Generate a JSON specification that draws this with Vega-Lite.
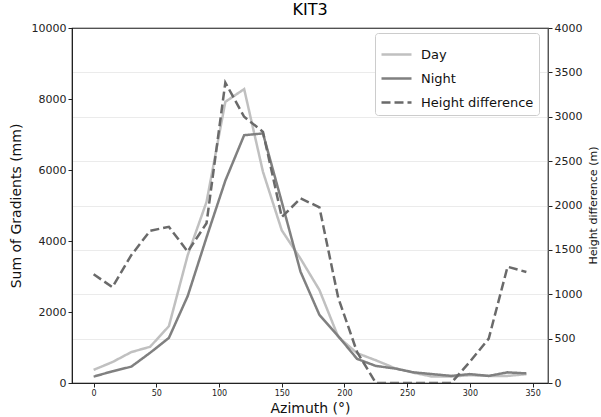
{
  "$schema": "https://vega.github.io/schema/vega-lite/v6.json",
  "width": 476,
  "height": 355,
  "autosize": {"type": "none"},
  "padding": {"left": 72, "top": 28, "right": 53, "bottom": 34},
  "background": "white",
  "title": {"text": "KIT3", "fontSize": 16, "fontWeight": "normal", "font": "DejaVu Sans", "color": "black", "offset": 4},
  "config": {
    "font": "DejaVu Sans",
    "view": {"stroke": "black", "strokeWidth": 1.2},
    "axis": {"labelColor": "#222", "titleColor": "#111", "titleFontWeight": "normal", "tickColor": "#222", "domainColor": "#222", "format": "d"}
  },
  "data": {"values": [
    {"az": 0, "Day": 370, "Night": 180, "Height difference": 1225},
    {"az": 15, "Day": 590, "Night": 330, "Height difference": 1080},
    {"az": 30, "Day": 870, "Night": 460, "Height difference": 1440},
    {"az": 45, "Day": 1020, "Night": 850, "Height difference": 1715},
    {"az": 60, "Day": 1600, "Night": 1270, "Height difference": 1760},
    {"az": 75, "Day": 3600, "Night": 2450, "Height difference": 1480},
    {"az": 90, "Day": 5100, "Night": 4100, "Height difference": 1800},
    {"az": 105, "Day": 7920, "Night": 5700, "Height difference": 3385},
    {"az": 120, "Day": 8280, "Night": 6980, "Height difference": 3000},
    {"az": 135, "Day": 5950, "Night": 7030, "Height difference": 2830},
    {"az": 150, "Day": 4300, "Night": 5100, "Height difference": 1870},
    {"az": 165, "Day": 3500, "Night": 3130, "Height difference": 2080},
    {"az": 180, "Day": 2620, "Night": 1920, "Height difference": 1980},
    {"az": 195, "Day": 1300, "Night": 1320, "Height difference": 960},
    {"az": 210, "Day": 840, "Night": 680, "Height difference": 350},
    {"az": 225, "Day": 640, "Night": 480, "Height difference": 0},
    {"az": 240, "Day": 420, "Night": 410, "Height difference": 0},
    {"az": 255, "Day": 290, "Night": 300, "Height difference": 0},
    {"az": 270, "Day": 180, "Night": 250, "Height difference": 0},
    {"az": 285, "Day": 180, "Night": 200, "Height difference": 0},
    {"az": 300, "Day": 220, "Night": 250, "Height difference": 240},
    {"az": 315, "Day": 200, "Night": 200, "Height difference": 500},
    {"az": 330, "Day": 200, "Night": 300, "Height difference": 1310},
    {"az": 345, "Day": 250, "Night": 270, "Height difference": 1250}
  ]},
  "layer": [
    {
      "transform": [{"fold": ["Day", "Night"], "as": ["series", "value"]}],
      "mark": {"type": "line", "strokeWidth": 2.5, "clip": true},
      "encoding": {
        "x": {"field": "az", "type": "quantitative",
              "scale": {"domain": [-17.25, 362.25], "nice": false, "zero": false},
              "axis": {"values": [0, 50, 100, 150, 200, 250, 300, 350], "title": "Azimuth (°)", "titleFontSize": 14, "labelFontSize": 8, "grid": false, "tickSize": 4, "titlePadding": 4}},
        "y": {"field": "value", "type": "quantitative",
              "scale": {"domain": [0, 10000], "nice": false},
              "axis": {"values": [0, 2000, 4000, 6000, 8000, 10000], "title": "Sum of Gradients (mm)", "titleFontSize": 14, "labelFontSize": 11, "grid": false, "tickSize": 4, "titlePadding": 8}},
        "color": {"field": "series", "type": "nominal",
                  "scale": {"domain": ["Day", "Night", "Height difference"], "range": ["#c0c0c0", "#808080", "#6a6a6a"]},
                  "legend": {"title": null, "orient": "none", "legendX": 303, "legendY": 5, "labelFontSize": 13, "symbolType": "stroke", "symbolStrokeWidth": 2.5, "symbolSize": 900, "strokeColor": "#cccccc", "fillColor": "white", "padding": 5, "cornerRadius": 3, "rowPadding": -8, "labelOffset": 8, "labelColor": "#111"}},
        "strokeDash": {"field": "series", "type": "nominal",
                  "scale": {"domain": ["Day", "Night", "Height difference"], "range": [[1, 0], [1, 0], [9, 4]]},
                  "legend": {"title": null, "orient": "none", "legendX": 303, "legendY": 5, "labelFontSize": 13, "symbolType": "stroke", "symbolStrokeWidth": 2.5, "symbolSize": 900, "strokeColor": "#cccccc", "fillColor": "white", "padding": 5, "cornerRadius": 3, "rowPadding": -8, "labelOffset": 8, "labelColor": "#111"}}
      }
    },
    {
      "transform": [{"fold": ["Height difference"], "as": ["series", "value"]}],
      "mark": {"type": "line", "strokeWidth": 2.5, "clip": true},
      "encoding": {
        "x": {"field": "az", "type": "quantitative"},
        "y": {"field": "value", "type": "quantitative",
              "scale": {"domain": [0, 4000], "nice": false},
              "axis": {"orient": "right", "values": [0, 500, 1000, 1500, 2000, 2500, 3000, 3500, 4000], "title": "Height difference (m)", "titleFontSize": 11, "titleAngle": 270, "titleX": 45, "titleY": 177, "titleAlign": "center", "titleBaseline": "middle", "labelFontSize": 11, "grid": true, "gridColor": "#cccccc", "gridDash": [1, 1], "gridWidth": 0.8, "tickSize": 4, "domainColor": "#555"}},
        "color": {"field": "series", "type": "nominal"},
        "strokeDash": {"field": "series", "type": "nominal"}
      }
    }
  ],
  "resolve": {"scale": {"y": "independent"}}
}
